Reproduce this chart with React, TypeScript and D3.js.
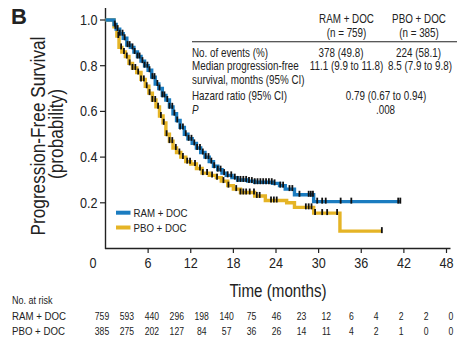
import React from "react";
import * as d3 from "d3";

// ---- data ----
const ramTimes = [0, 1.2, 1.5, 2.0, 2.5, 3.0, 3.5, 4.0, 4.5, 5.0, 5.5, 6.0, 6.5, 7.0, 7.5, 8.0, 8.5, 9.0, 9.5, 10.0, 10.5, 11.1, 11.6, 12.2, 12.8, 13.4, 14.0, 14.6, 15.2, 15.8, 16.4, 17.0, 17.8, 18.6, 20.0, 21.0, 23.5, 24.5, 25.3, 26.6, 29.3, 41.5];
const ramSurv = [1.0, 0.98, 0.96, 0.94, 0.92, 0.89, 0.88, 0.86, 0.84, 0.82, 0.8, 0.78, 0.75, 0.72, 0.7, 0.67, 0.65, 0.62, 0.59, 0.56, 0.53, 0.5, 0.48, 0.46, 0.44, 0.42, 0.4, 0.38, 0.36, 0.345, 0.33, 0.32, 0.31, 0.3, 0.295, 0.29, 0.285, 0.275, 0.26, 0.235, 0.205, 0.205];
const pboTimes = [0, 1.2, 1.6, 1.9, 2.3, 2.8, 3.3, 3.8, 4.4, 5.0, 5.6, 6.1, 6.6, 7.1, 7.6, 8.1, 8.5, 9.0, 9.5, 10.0, 10.6, 11.3, 12.0, 12.8, 13.6, 14.6, 15.6, 16.3, 17.2, 18.0, 19.0, 21.0, 22.5, 25.5, 26.6, 29.3, 33.0, 38.9];
const pboSurv = [1.0, 0.97, 0.93, 0.88, 0.86, 0.84, 0.81, 0.79, 0.77, 0.74, 0.71, 0.68, 0.65, 0.62, 0.58, 0.55, 0.5, 0.47, 0.44, 0.42, 0.4, 0.38, 0.37, 0.35, 0.33, 0.32, 0.31, 0.295, 0.275, 0.26, 0.245, 0.23, 0.21, 0.2, 0.18, 0.155, 0.076, 0.076];
const ramCensor = [1.3, 1.7, 2.0, 2.4, 2.7, 3.1, 3.4, 3.8, 4.1, 4.5, 4.8, 5.2, 5.5, 5.9, 6.2, 6.6, 6.9, 7.3, 7.6, 8.0, 8.3, 8.7, 9.0, 9.4, 9.7, 10.1, 10.5, 10.9, 11.3, 11.7, 12.1, 12.5, 12.9, 13.3, 13.7, 14.1, 14.5, 14.9, 15.3, 15.8, 16.2, 16.7, 17.2, 17.7, 18.2, 18.6, 19.0, 19.4, 19.8, 20.2, 20.6, 21.0, 21.4, 21.8, 22.2, 22.6, 23.0, 23.4, 23.8, 24.6, 25.0, 25.9, 26.3, 27.3, 28.6, 28.9, 29.2, 29.8, 30.5, 31.0, 33.1, 34.6, 41.2, 41.5];
const pboCensor = [1.4, 1.8, 2.2, 2.6, 3.0, 3.4, 3.8, 4.2, 4.6, 5.0, 5.4, 5.8, 6.2, 6.6, 7.0, 7.4, 7.8, 8.2, 8.6, 9.0, 9.4, 9.9, 10.4, 10.9, 11.5, 11.9, 12.6, 13.3, 13.7, 14.3, 15.0, 15.7, 16.6, 17.3, 18.4, 19.0, 19.4, 19.8, 20.3, 20.9, 21.3, 21.7, 23.3, 23.7, 24.1, 28.2, 28.6, 29.0, 29.5, 30.5, 31.2, 32.6, 38.9];
const xTicks = [0, 6, 12, 18, 24, 30, 36, 42, 48];
const yTicks = [0.2, 0.4, 0.6, 0.8, 1.0];
const riskTimes = [0, 3, 6, 9, 12, 15, 18, 21, 24, 27, 30, 33, 36, 39, 42];
const ramRisk = [759, 593, 440, 296, 198, 140, 75, 46, 23, 12, 6, 4, 2, 2, 0];
const pboRisk = [385, 275, 202, 127, 84, 57, 36, 26, 14, 11, 4, 2, 1, 0, 0];
const groupNames = ["RAM + DOC", "PBO + DOC"];
const groupN = ["(n = 759)", "(n = 385)"];
const events = ["378 (49.8)", "224 (58.1)"];
const medians = ["11.1 (9.9 to 11.8)", "8.5 (7.9 to 9.8)"];
const hazard = "0.79 (0.67 to 0.94)";
const pValue = ".008";

const BLUE = "#1b7cc0";
const YELLOW = "#e5b426";
const FONT = "'Liberation Sans', Arial, sans-serif";
const SQ = 0.82; // horizontal squeeze to mimic a condensed face

type NTProps = {
  x: number;
  y: number;
  size: number;
  anchor?: "start" | "middle" | "end";
  rotate?: boolean;
  italic?: boolean;
  sq?: number;
  children: React.ReactNode;
};

function NT({ x, y, size, anchor = "start", rotate = false, italic = false, sq = SQ, children }: NTProps) {
  return (
    <text
      transform={`translate(${x},${y})${rotate ? " rotate(-90)" : ""} scale(${sq},1)`}
      textAnchor={anchor}
      fontFamily={FONT}
      fontSize={size}
      fontStyle={italic ? "italic" : "normal"}
      fill="#222"
      dy="0.36em"
    >
      {children}
    </text>
  );
}

export default function App() {
  const x = d3.scaleLinear().domain([0, 48]).range([105.5, 446.5]);
  const y = d3.scaleLinear().domain([0, 1]).range([248.5, 20]);
  const riskX = d3.scaleLinear().domain([0, 42]).range([102, 451]);

  const line = d3
    .line<[number, number]>()
    .x((d) => x(d[0]))
    .y((d) => y(d[1]))
    .curve(d3.curveStepAfter);

  const ramPts = ramTimes.map((t, i) => [t, ramSurv[i]] as [number, number]);
  const pboPts = pboTimes.map((t, i) => [t, pboSurv[i]] as [number, number]);

  const survAt = (times: number[], surv: number[], t: number) => {
    const i = d3.bisectRight(times, t) - 1;
    return surv[Math.max(0, i)];
  };

  const censorMarks = (cs: number[], times: number[], surv: number[], key: string) =>
    cs.map((t, i) => {
      const cx = x(t);
      const cy = y(survAt(times, surv, t));
      return <line key={key + i} x1={cx} x2={cx} y1={cy - 4} y2={cy + 2} stroke="#111" strokeWidth={1.8} />;
    });

  return (
    <svg width={473} height={347} style={{ position: "absolute", left: 0, top: 0, background: "#fff" }}>
      <rect width={473} height={347} fill="#fff" />
      {/* panel letter */}
      <text x={11} y={23.5} fontFamily={FONT} fontWeight="bold" fontSize={22} fill="#222">B</text>

      {/* y-axis title */}
      <NT x={37} y={136} size={21} anchor="middle" rotate>Progression-Free Survival</NT>
      <NT x={55} y={134} size={21} anchor="middle" rotate>(probability)</NT>

      {/* axes */}
      <line x1={105.5} x2={105.5} y1={8} y2={249} stroke="#222" strokeWidth={1.4} />
      <line x1={105} x2={450.5} y1={248.5} y2={248.5} stroke="#222" strokeWidth={1.4} />
      {yTicks.map((v) => (
        <g key={"yt" + v}>
          <line x1={100} x2={105.5} y1={y(v)} y2={y(v)} stroke="#222" strokeWidth={1.2} />
          <NT x={97.5} y={y(v)} size={14} anchor="end" sq={0.9}>{v.toFixed(1)}</NT>
        </g>
      ))}
      {xTicks.map((v) => (
        <g key={"xt" + v}>
          {v > 0 && <line x1={x(v)} x2={x(v)} y1={248.5} y2={253} stroke="#222" strokeWidth={1.2} />}
          <NT x={v === 0 ? x(v) - 12.5 : x(v)} y={263} size={14} anchor="middle" sq={0.9}>{v}</NT>
        </g>
      ))}
      <NT x={278} y={290} size={18.5} anchor="middle">Time (months)</NT>

      {/* curves */}
      <path d={line(pboPts) || ""} fill="none" stroke={YELLOW} strokeWidth={3.4} />
      <path d={line(ramPts) || ""} fill="none" stroke={BLUE} strokeWidth={3.4} />
      {censorMarks(pboCensor, pboTimes, pboSurv, "pc")}
      {censorMarks(ramCensor, ramTimes, ramSurv, "rc")}

      {/* legend */}
      <line x1={116} x2={130.5} y1={212.7} y2={212.7} stroke={BLUE} strokeWidth={4} />
      <NT x={133.5} y={212.7} size={11.8}>{groupNames[0]}</NT>
      <line x1={116} x2={130.5} y1={227.5} y2={227.5} stroke={YELLOW} strokeWidth={4} />
      <NT x={133.5} y={227.5} size={11.8}>{groupNames[1]}</NT>

      {/* summary table */}
      <NT x={346.5} y={18.3} size={12} anchor="middle">{groupNames[0]}</NT>
      <NT x={346.5} y={32.3} size={12} anchor="middle">{groupN[0]}</NT>
      <NT x={419} y={18.3} size={12} anchor="middle">{groupNames[1]}</NT>
      <NT x={419} y={32.3} size={12} anchor="middle">{groupN[1]}</NT>
      <line x1={192} x2={457} y1={41.7} y2={41.7} stroke="#222" strokeWidth={1.1} />
      <NT x={192} y={52.3} size={12}>No. of events (%)</NT>
      <NT x={341} y={52.3} size={12} anchor="middle">{events[0]}</NT>
      <NT x={418.5} y={52.3} size={12} anchor="middle">{events[1]}</NT>
      <NT x={192} y={66} size={12}>Median progression-free</NT>
      <NT x={346.5} y={66} size={12} anchor="middle">{medians[0]}</NT>
      <NT x={420} y={66} size={12} anchor="middle">{medians[1]}</NT>
      <NT x={192} y={80} size={12}>survival, months (95% CI)</NT>
      <NT x={192} y={96} size={12}>Hazard ratio (95% CI)</NT>
      <NT x={386} y={96} size={12} anchor="middle">{hazard}</NT>
      <NT x={192} y={110} size={12} italic>P</NT>
      <NT x={385.5} y={110} size={12} anchor="middle">{pValue}</NT>

      {/* numbers at risk */}
      <NT x={12} y={300} size={11}>No. at risk</NT>
      <NT x={12} y={316} size={11.8}>{groupNames[0]}</NT>
      <NT x={12} y={331} size={11.8}>{groupNames[1]}</NT>
      {riskTimes.map((t, i) => (
        <g key={"r" + t}>
          <NT x={riskX(t)} y={316} size={10.5} anchor="middle">{ramRisk[i]}</NT>
          <NT x={riskX(t)} y={331} size={10.5} anchor="middle">{pboRisk[i]}</NT>
        </g>
      ))}
    </svg>
  );
}
